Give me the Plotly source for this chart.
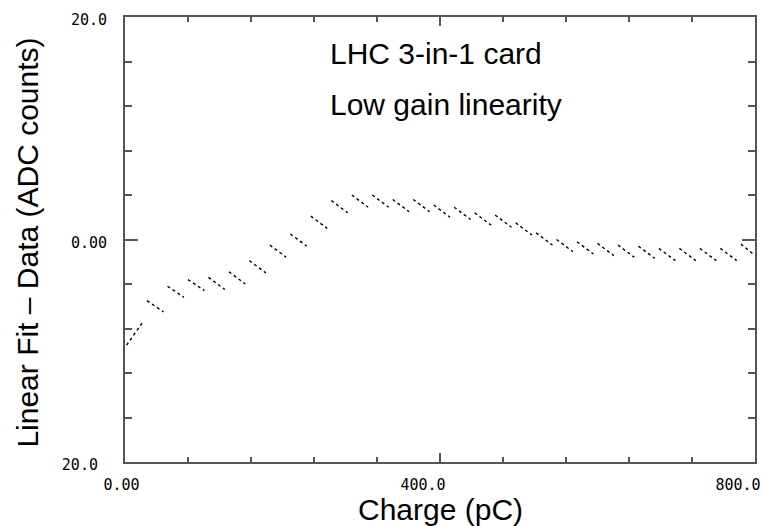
import plotly.graph_objects as go

# Charge (pC) sample positions and residuals (ADC counts), grouped in 5-point "teeth"
charge = [2 + 5.2 * k for k in range(154)]
residual = [
    -9.5, -9.0, -8.4, -7.9, -7.4,
    -5.5, -5.75, -6.0, -6.25, -6.5,
    -4.2, -4.45, -4.7, -4.95, -5.2,
    -3.6, -3.85, -4.1, -4.35, -4.6,
    -3.4, -3.68, -3.95, -4.23, -4.5,
    -2.9, -3.18, -3.45, -3.73, -4.0,
    -1.9, -2.18, -2.45, -2.73, -3.0,
    -0.5, -0.78, -1.05, -1.33, -1.6,
    0.5, 0.22, -0.05, -0.33, -0.6,
    2.1, 1.82, 1.55, 1.27, 1.0,
    3.5, 3.22, 2.95, 2.67, 2.4,
    4.0, 3.72, 3.45, 3.17, 2.9,
    4.0, 3.72, 3.45, 3.17, 2.9,
    3.6, 3.32, 3.05, 2.77, 2.5,
    3.6, 3.32, 3.05, 2.77, 2.5,
    3.1, 2.82, 2.55, 2.27, 2.0,
    2.9, 2.62, 2.35, 2.07, 1.8,
    2.4, 2.12, 1.85, 1.57, 1.3,
    2.2, 1.92, 1.65, 1.37, 1.1,
    1.5, 1.22, 0.95, 0.67, 0.4,
    0.6, 0.32, 0.05, -0.23, -0.5,
    0.0, -0.28, -0.55, -0.83, -1.1,
    -0.2, -0.48, -0.75, -1.03, -1.3,
    -0.35, -0.63, -0.9, -1.18, -1.45,
    -0.5, -0.78, -1.05, -1.33, -1.6,
    -0.6, -0.88, -1.15, -1.43, -1.7,
    -0.8, -1.08, -1.35, -1.63, -1.9,
    -0.8, -1.08, -1.35, -1.63, -1.9,
    -0.8, -1.08, -1.35, -1.63, -1.9,
    -0.8, -1.08, -1.35, -1.63, -1.9,
    -0.4, -0.7, -1.0, -1.3,
]
TOOTH = 5

x_ticks = [0, 400, 800]
x_ticktext = ["\u00a0\u00a0\u00a00.00", "400.0", "800.0"]
y_ticks = [-20, 0, 20]
y_ticktext = ["20.0\u00a0", "0.00", "20.0"]

annotation_lines = ["LHC 3-in-1 card", "Low gain linearity"]
x_title = "Charge (pC)"
y_title = "Linear Fit \u2013 Data (ADC counts)"

# split into teeth separated by gaps
xs, ys = [], []
for i in range(0, len(charge), TOOTH):
    xs += charge[i:i + TOOTH] + [None]
    ys += residual[i:i + TOOTH] + [None]

fig = go.Figure()
fig.add_trace(go.Scatter(
    x=xs, y=ys, mode="lines",
    line=dict(color="black", width=1.4, dash="dot"),
    connectgaps=False, showlegend=False, hoverinfo="skip",
))

tickfont = dict(family="DejaVu Sans Mono, monospace", size=15, color="black")
axis_common = dict(
    showline=True, linecolor="#555", linewidth=2, mirror="ticks",
    ticks="inside", tickcolor="#555", tickwidth=2,
    showgrid=False, zeroline=False, tickfont=tickfont,
)

fig.update_xaxes(
    range=[0, 800], tickvals=x_ticks, ticktext=x_ticktext, ticklen=9,
    minor=dict(dtick=80, tick0=0, ticks="inside", ticklen=5, tickcolor="#555", tickwidth=2),
    ticklabelshift=-17, ticklabelstandoff=8,
    **axis_common,
)
fig.update_yaxes(
    range=[-20, 20], tickvals=y_ticks, ticktext=y_ticktext, ticklen=13,
    minor=dict(dtick=4, tick0=0, ticks="inside", ticklen=7, tickcolor="#555", tickwidth=2),
    ticklabelstandoff=13, ticklabelshift=3,
    **axis_common,
)

textfont = dict(family="Liberation Sans, Arial, sans-serif", size=30, color="black")
fig.add_annotation(x=258, y=16.75, xref="x", yref="y", text=annotation_lines[0],
                   showarrow=False, xanchor="left", yanchor="middle", font=textfont)
fig.add_annotation(x=258, y=12.15, xref="x", yref="y", text=annotation_lines[1],
                   showarrow=False, xanchor="left", yanchor="middle", font=textfont)
fig.add_annotation(x=0.5, y=-0.107, xref="paper", yref="paper", text=x_title,
                   showarrow=False, xanchor="center", yanchor="middle", font=textfont)
fig.add_annotation(x=-0.154, y=0.493, xref="paper", yref="paper", text=y_title,
                   textangle=-90, showarrow=False, xanchor="center", yanchor="middle",
                   font=textfont)

fig.update_layout(
    width=763, height=526,
    margin=dict(l=125, r=8, t=17, b=64, autoexpand=False),
    paper_bgcolor="white", plot_bgcolor="white",
)

fig.write_html("out.html", config={"displayModeBar": False, "staticPlot": True},
               post_script="document.body.style.margin='0';document.body.style.overflow='hidden';")
